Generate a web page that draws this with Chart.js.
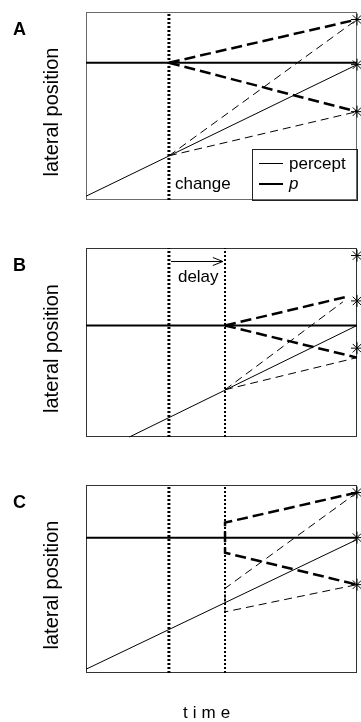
<!DOCTYPE html>
<html lang="en">

<head>
    <meta charset="UTF-8">
    <meta name="viewport" content="width=device-width, initial-scale=1.0">
    <script src="https://cdn.jsdelivr.net/npm/chart.js@4/dist/chart.umd.min.js"></script>
    <title>lateral position / time</title>
    <style>
        body {
            margin: 0;
            background: #fff;
            width: 361px;
            height: 722px;
            position: relative;
            overflow: hidden;
        }

        canvas {
            position: absolute;
            left: 0;
        }
    </style>
</head>

<body>
    <canvas id="panelA" width="361" height="240" style="top:0px"></canvas>
    <canvas id="panelB" width="361" height="240" style="top:240px"></canvas>
    <canvas id="panelC" width="361" height="242" style="top:480px"></canvas>

    <script>
        // time and position both run 0..100 (arbitrary units)
        const timeRange = [0, 100];
        const positionRange = [0, 100];
        const changeTime = 30.6;     // moment of the change
        const reactTime = 51.3;      // change + delay
        const goalPositions = [96, 72, 47];   // asterisks at the end of each trial

        // panel A
        const perceptA = [[0, 2], [100, 72]];
        const pA = [[0, 73], [100, 73]];
        const pUpA = [[changeTime, 73], [100, 96]];
        const pDownA = [[changeTime, 73], [100, 47]];
        const perceptUpA = [[changeTime, 23.5], [100, 96]];
        const perceptDownA = [[changeTime, 23.5], [100, 47]];

        // panel B
        const perceptB = [[16, 0], [100, 59]];
        const pB = [[0, 59], [100, 59]];
        const pUpB = [[reactTime, 59], [95.6, 74]];
        const pDownB = [[reactTime, 59], [100, 42]];
        const perceptUpB = [[reactTime, 25], [94.8, 71.5]];
        const perceptDownB = [[reactTime, 25], [100, 42]];
        const delayArrow = [[changeTime + 0.8, 93], [reactTime - 0.8, 93]];

        // panel C
        const perceptC = [[0, 2], [100, 71]];
        const pC = [[0, 72], [100, 72]];
        const pJumpC = [[100, 96], [reactTime, 80], [reactTime, 64], [100, 47]];
        const perceptJumpC = [[100, 96], [reactTime, 45], [reactTime, 32.5], [100, 47]];

        const FONT = '"Liberation Sans", Arial, sans-serif';

        function seg(points, width, dash) {
            return {
                data: points.map(([x, y]) => ({ x, y })),
                showLine: true,
                borderColor: '#000',
                backgroundColor: '#000',
                borderWidth: width,
                borderDash: dash || [],
                pointRadius: 0,
                clip: false,
                tension: 0
            };
        }

        function vline(t, width) {
            return seg([[t, positionRange[0]], [t, positionRange[1]]], width, [2, 2]);
        }

        function stars() {
            return {
                data: goalPositions.map(y => ({ x: timeRange[1], y })),
                showLine: false,
                pointStyle: 'star',
                pointRadius: 6,
                borderWidth: 1,
                borderColor: '#000',
                backgroundColor: '#000',
                clip: false
            };
        }

        const frame = {
            id: 'frame',
            beforeDatasetsDraw(chart, args, opts) {
                const a = chart.chartArea, ctx = chart.ctx;
                ctx.save();
                ctx.strokeStyle = opts.color || '#444';
                ctx.lineWidth = 1;
                ctx.strokeRect(a.left + 0.5, a.top + 0.5, a.right - a.left - 1, a.bottom - a.top - 1);
                ctx.restore();
            }
        };

        const decor = {
            id: 'decor',
            afterDraw(chart, args, opts) {
                const a = chart.chartArea, ctx = chart.ctx;
                const xs = chart.scales.x, ys = chart.scales.y;
                ctx.save();
                ctx.fillStyle = '#000';
                ctx.strokeStyle = '#000';

                // panel letter
                ctx.font = 'bold 18px ' + FONT;
                ctx.textBaseline = 'alphabetic';
                ctx.textAlign = 'left';
                ctx.fillText(opts.letter, 13, a.top + 23);

                // y title
                ctx.save();
                ctx.translate(52, (a.top + a.bottom) / 2 + 6);
                ctx.rotate(-Math.PI / 2);
                ctx.font = '20px ' + FONT;
                ctx.textAlign = 'center';
                ctx.textBaseline = 'middle';
                ctx.fillText('lateral position', 0, 0);
                ctx.restore();

                ctx.font = '17px ' + FONT;
                ctx.textAlign = 'left';
                if (opts.change) {
                    ctx.fillText('change', xs.getPixelForValue(changeTime) + 6, a.bottom - 11);
                }
                if (opts.legend) {
                    const l = 252, t = a.bottom - 51;
                    ctx.lineWidth = 1;
                    ctx.strokeStyle = '#222';
                    ctx.strokeRect(l + 0.5, t + 0.5, a.right - l, 51);
                    ctx.strokeStyle = '#000';
                    ctx.beginPath();
                    ctx.moveTo(259, t + 14.5);
                    ctx.lineTo(283, t + 14.5);
                    ctx.stroke();
                    ctx.lineWidth = 2;
                    ctx.beginPath();
                    ctx.moveTo(259, t + 35);
                    ctx.lineTo(283, t + 35);
                    ctx.stroke();
                    ctx.fillText('percept', 289, t + 20);
                    ctx.font = 'italic 17px ' + FONT;
                    ctx.fillText('p', 289, t + 40);
                }
                if (opts.delay) {
                    const [p0, p1] = delayArrow;
                    const x0 = xs.getPixelForValue(p0[0]), x1 = xs.getPixelForValue(p1[0]);
                    const y = Math.round(ys.getPixelForValue(p0[1])) + 0.5;
                    ctx.lineWidth = 1;
                    ctx.beginPath();
                    ctx.moveTo(x0, y);
                    ctx.lineTo(x1, y);
                    ctx.moveTo(x1 - 10, y - 4);
                    ctx.lineTo(x1, y);
                    ctx.lineTo(x1 - 10, y + 4);
                    ctx.stroke();
                    ctx.fillText('delay', xs.getPixelForValue(changeTime) + 9, a.top + 34);
                }
                if (opts.time) {
                    ctx.font = '17px ' + FONT;
                    ctx.letterSpacing = '5px';
                    ctx.fillText('time', 183, a.bottom + 45);
                }
                ctx.restore();
            }
        };

        function makePanel(id, datasets, padding, opts, frameColor) {
            return new Chart(id, {
                type: 'scatter',
                data: { datasets },
                plugins: [frame, decor],
                options: {
                    responsive: false,
                    animation: false,
                    events: [],
                    layout: { padding, autoPadding: false },
                    scales: {
                        x: { type: 'linear', min: timeRange[0], max: timeRange[1], display: false },
                        y: { type: 'linear', min: positionRange[0], max: positionRange[1], display: false }
                    },
                    plugins: {
                        legend: { display: false },
                        tooltip: { enabled: false },
                        frame: { color: frameColor },
                        decor: opts
                    }
                }
            });
        }

        makePanel('panelA', [
            vline(changeTime, 3),
            seg(perceptA, 1),
            seg(perceptUpA, 1, [8, 5]),
            seg(perceptDownA, 1, [8, 5]),
            seg(pA, 2),
            seg(pUpA, 2.5, [11, 5]),
            seg(pDownA, 2.5, [11, 5]),
            stars()
        ], { left: 86, right: 4, top: 12, bottom: 40 }, { letter: 'A', change: true, legend: true }, '#6a6a6a');

        makePanel('panelB', [
            vline(changeTime, 3),
            vline(reactTime, 2),
            seg(perceptB, 1),
            seg(perceptUpB, 1, [8, 5]),
            seg(perceptDownB, 1, [8, 5]),
            seg(pB, 2),
            seg(pUpB, 2.5, [11, 5]),
            seg(pDownB, 2.5, [11, 5]),
            stars()
        ], { left: 86, right: 4, top: 8, bottom: 43 }, { letter: 'B', delay: true }, '#333');

        makePanel('panelC', [
            vline(changeTime, 3),
            vline(reactTime, 2),
            seg(perceptC, 1),
            seg(perceptJumpC, 1, [8, 5]),
            seg(pC, 2),
            seg(pJumpC, 2.5, [11, 5]),
            stars()
        ], { left: 86, right: 4, top: 5, bottom: 49 }, { letter: 'C', time: true }, '#333');
    </script>
</body>

</html>
